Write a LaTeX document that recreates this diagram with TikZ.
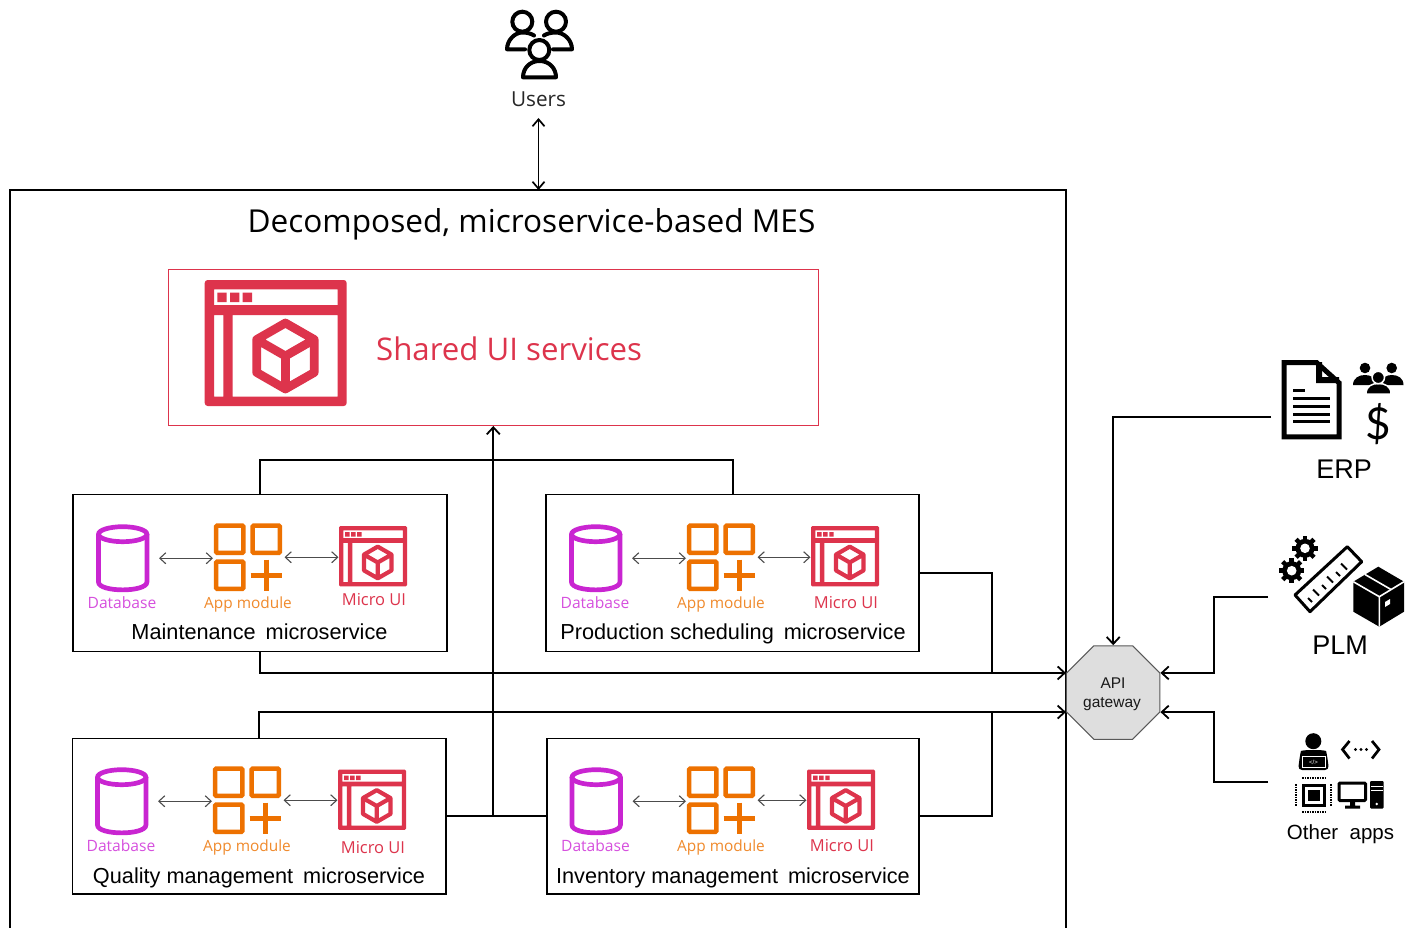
\documentclass[tikz,border=0pt]{standalone}
\usepackage{fontspec}
\setmainfont{Liberation Sans}
\newfontfamily\osans{Open Sans}
\newfontfamily\lato{Lato}
\usetikzlibrary{arrows.meta,shapes.geometric}
\definecolor{dbc}{HTML}{C925D1}
\definecolor{appc}{HTML}{ED7100}
\definecolor{uic}{HTML}{DD344C}
\definecolor{dbt}{HTML}{D650DE}
\definecolor{appt}{HTML}{F08A2C}
\newcommand{\fsz}[1]{\fontsize{#1}{#1}\selectfont}
\newcommand{\wgap}{\hspace{10pt}}
\tikzset{
  conn/.style={draw=black,line width=2pt},
  connar/.style={conn,-{Straight Barb[length=7pt,width=13pt,line width=1.8pt]}},
  thinar/.style={draw=black!70,line width=1.1pt,{Straight Barb[length=6pt,width=11pt]}-{Straight Barb[length=6pt,width=11pt]}},
  svcbox/.style={draw=black,line width=1.2pt,fill=white,inner sep=0pt},
  iconbox/.style={inner sep=0pt,outer sep=0pt},
  svctitle/.style={inner sep=0pt,anchor=base,font=\fsz{21.7}},
  dblab/.style={inner sep=0pt,anchor=base,text=dbt,font=\osans\fsz{15.6}},
  applab/.style={inner sep=0pt,anchor=base,text=appt,font=\osans\fsz{15.4}},
  uilab/.style={inner sep=0pt,anchor=base,text=uic,font=\osans\fsz{16.5}},
  sidelab/.style={inner sep=0pt,font=\fsz{27}},
}
% Micro UI icon: top-left x,y, scale
\newcommand{\uiicon}[3]{%
 \begin{scope}[shift={(#1,#2)},scale=#3]
  \fill[uic,even odd rule,rounded corners=#3*3pt] (0,0) rectangle (142,126)
    [sharp corners] (9.3,9.3) rectangle (133,25)
    (9.3,35) rectangle (18.7,116.7)
    (28,35) rectangle (133,116.7);
  \fill[uic] (12.7,12.7) rectangle (22,22) (25.3,12.7) rectangle (34.7,22) (38,12.7) rectangle (47.3,22);
  \draw[uic,line width=#3*8.7pt,line join=round]
    (80.7,43) -- (109.5,59.5) -- (109.5,92.5) -- (80.7,109) -- (52,92.5) -- (52,59.5) -- cycle
    (52,59.5) -- (80.7,76) -- (109.5,59.5) (80.7,76) -- (80.7,109);
 \end{scope}}
% Database icon: left, top
\newcommand{\dbicon}[2]{%
 \begin{scope}[shift={(#1,#2)}]
  \draw[dbc,line width=4.7pt] (26.7,9.7) ellipse [x radius=24.2,y radius=7.5];
  \draw[dbc,line width=4.7pt] (2.5,9.7) -- (2.5,57.5) .. controls (2.5,68) and (50.9,68) .. (50.9,57.5) -- (50.9,9.7);
 \end{scope}}
% App module icon: left, top
\newcommand{\appicon}[2]{%
 \begin{scope}[shift={(#1,#2)}]
  \draw[appc,line width=4.5pt,rounded corners=1pt]
    (2.2,2.2) rectangle (29.3,29.3) (38.7,2.2) rectangle (65.8,29.3) (2.2,38.2) rectangle (29.3,65.3);
  \draw[appc,line width=4.7pt] (52.2,36) -- (52.2,67.5) (36.5,52) -- (68,52);
 \end{scope}}
% One row of icons, labels and inner arrows
% prefix, db left, app left, ui left, row top, ui top, ui label baseline
\newcommand{\svcrow}[7]{%
  \node[iconbox,minimum width=54pt,minimum height=67.5pt,anchor=north west] (#1db) at (#2,#5) {};
  \node[iconbox,minimum width=68pt,minimum height=67.5pt,anchor=north west] (#1app) at (#3,#5-1) {};
  \node[iconbox,minimum width=68pt,minimum height=60.5pt,anchor=north west] (#1ui) at (#4,#6) {};
  \dbicon{#2}{#5}\appicon{#3}{#5-1}\uiicon{#4}{#6}{0.48}
  \node[dblab] (#1dbl) at (#2+26,#5+84.3) {Database};
  \node[applab] (#1appl) at (#3+34,#5+84.3) {App module};
  \node[uilab] (#1uil) at (#4+35,#7) {Micro UI};
  \draw[thinar,shorten <=9pt,shorten >=1pt] (#1db.east) -- (#1db.east -| #1app.west);
  \draw[thinar,shorten <=2.5pt,shorten >=0.5pt] (#1app.east) -- (#1app.east -| #1ui.west);
}
\newcommand{\gearicon}[2]{%
 \begin{scope}[shift={(#1,#2)}]
  \fill[black] (0,0) circle [radius=9.5];
  \foreach \a in {0,45,...,315}{\draw[black,line width=4.5pt] (\a:8) -- (\a:12.7);}
  \fill[white] (0,0) circle [radius=4.8];
 \end{scope}}
\begin{document}
\begin{tikzpicture}[x=1pt,y=-1pt]
\useasboundingbox (0,0) rectangle (1413,928);
\fill[white] (0,0) rectangle (1413,928);

% outer frame
\draw[black,line width=2pt] (10,928) -- (10,190) -- (1066,190) -- (1066,928);
\coordinate (frametop) at (538.5,190);
\node[inner sep=0pt,font=\osans\fsz{31.6}] (title) at (531.5,224.5) {Decomposed, microservice-based MES};

% users
\begin{scope}[line width=4pt,line join=round,line cap=round]
 \draw (522.3,21.7) circle [radius=10];
 \draw (556,21.7) circle [radius=10];
 \draw (539.3,50) circle [radius=10];
 \draw (525,49.3) -- (507,49.3) .. controls (507,40) and (515,32.5) .. (522.3,32.5) .. controls (527,32.5) and (531,33.5) .. (534,35.5);
 \draw (553,49.3) -- (572,49.3) .. controls (572,40) and (564,32.5) .. (556,32.5) .. controls (551,32.5) and (547,33.5) .. (544,35.5);
 \draw (523,77.3) -- (556,77.3) .. controls (556,68) and (549,61) .. (539.5,61) .. controls (530,61) and (523,68) .. (523,77.3);
\end{scope}
\node[inner sep=0pt,font=\osans\fsz{20.7},text=black!85] (users) at (538.5,99) {Users};
\coordinate (usersarrow) at (538.5,118);
\draw[conn,line width=1.8pt,{Straight Barb[length=7pt,width=12pt,line width=1.7pt]}-{Straight Barb[length=7pt,width=12pt,line width=1.7pt]}] (usersarrow) -- (frametop);

% shared UI
\node[draw=uic,line width=1pt,inner sep=0pt,minimum width=650.5pt,minimum height=156pt] (shared) at (493.3,347.5) {};
\uiicon{204.7}{280}{1}
\node[inner sep=0pt,text=uic,font=\osans\fsz{31.2},anchor=west] (sharedt) at (376,349) {Shared UI services};

% service boxes
\node[svcbox,minimum width=374pt,minimum height=157pt] (maint) at (260,573) {};
\node[svcbox,minimum width=373pt,minimum height=157pt] (prod) at (732.5,573) {};
\node[svcbox,minimum width=373.5pt,minimum height=155.5pt] (qual) at (259.25,816.25) {};
\node[svcbox,minimum width=372pt,minimum height=155.5pt] (inv) at (733,816.25) {};

\svcrow{m}{96}{214}{339}{524.5}{526}{605.5}
\svcrow{p}{569}{687}{811}{524.5}{526}{608.5}
\svcrow{q}{95}{213}{338}{767.5}{769.5}{853.5}
\svcrow{i}{569.5}{687}{807}{767.5}{769.5}{851.5}

\node[svctitle] (mt) at (259.5,639.5) {Maintenance\wgap microservice};
\node[svctitle] (pt) at (733,639.5) {Production scheduling\wgap microservice};
\node[svctitle] (qt) at (259,883.5) {Quality management\wgap microservice};
\node[svctitle] (it) at (733,883.5) {Inventory management\wgap microservice};

% API gateway
\node[regular polygon,regular polygon sides=8,draw=black!65,line width=1pt,fill=black!13,inner sep=0pt,minimum size=101.2pt] (api) at (1113.2,692.5) {};
\node[inner sep=0pt,anchor=base,font=\fsz{15.5},text=black!90] (apit) at (1113,688.5) {API};
\node[inner sep=0pt,anchor=base,font=\fsz{15.5},text=black!90] (apib) at (1112,707.5) {gateway};

% connectors
\coordinate (bus) at (493.5,460);
\coordinate (busx) at (992,692);
\coordinate (jx) at (1214,692);
\coordinate (erpc) at (1271,417);
\coordinate (plmc) at (1268,597);
\coordinate (othc) at (1268,782);
\draw[conn] (maint.north) |- (bus) -| (prod.north);
\draw[conn] (qual.east) -- (inv.west);
\draw[connar] (qual.east -| shared.south) -- (shared.south);
\draw[connar] (maint.south) |- (api.corner 3);
\draw[connar] (qual.north) |- (api.corner 4);
\draw[conn] (prod.east) -| (busx |- api.corner 3);
\draw[conn] (inv.east) -| (busx |- api.corner 4);
\draw[connar] (erpc) -| (api.north);
\draw[connar] (plmc) -| (jx |- api.corner 8) -- (api.corner 8);
\draw[connar] (othc) -| (jx |- api.corner 7) -- (api.corner 7);

% ERP icons
\draw[line width=5pt,line join=miter] (1284.2,362.5) -- (1316.5,362.5) -- (1339.2,383) -- (1339.2,436.8) -- (1284.2,436.8) -- cycle;
\fill (1316,362) -- (1322,362) -- (1322,377) -- (1339,377) -- (1339,383) -- (1316,383) -- cycle;
\draw[line width=2.7pt] (1293,390.7) -- (1305,390.7) (1293,398.3) -- (1330,398.3) (1293,406.3) -- (1330,406.3) (1293,414.3) -- (1330,414.3) (1293,421.7) -- (1330,421.7);
\fill (1365,368) circle [radius=5.3] (1391.7,368) circle [radius=5.3];
\fill (1353,385) .. controls (1353,378) and (1359,375) .. (1365,375) .. controls (1371,375) and (1376,378) .. (1377,385) -- cycle;
\fill (1380,385) .. controls (1381,378) and (1386,375) .. (1391.7,375) .. controls (1398,375) and (1403.5,378) .. (1403.5,385) -- cycle;
\draw[white,line width=1.5pt,fill=black] (1366,394) .. controls (1366,386) and (1372,383.5) .. (1378.3,383.5) .. controls (1385,383.5) and (1391,386) .. (1391,394) -- cycle;
\draw[white,line width=1.5pt,fill=black] (1378.3,377.5) circle [radius=6.2];
\node[inner sep=0pt,font=\lato\fsz{44}] (dollar) at (1378,424) {\$};
\node[sidelab] (erp) at (1344,469) {ERP};

% PLM icons
\gearicon{1305}{548.3}
\gearicon{1291.7}{570.7}
\draw[line width=3pt,line join=round] (1295,595) -- (1347.3,546.7) -- (1361.7,561.7) -- (1310,611.7) -- cycle;
\draw[line width=1.8pt] (1312,602) -- (1308,598) (1319,595.5) -- (1313,589.5) (1326,589) -- (1322,585) (1333,582.5) -- (1327,576.5) (1340,576) -- (1336,572) (1347,569.5) -- (1341,563.5);
\fill (1378.3,566.7) -- (1404,581.7) -- (1404,611.7) -- (1379.3,626.7) -- (1353.3,611.7) -- (1353.3,581.7) -- cycle;
\draw[white,line width=1.6pt] (1353.3,581.7) -- (1379.3,596.7) -- (1404,581.7) (1379.3,596.7) -- (1379.3,626.7);
\draw[white,line width=1.6pt] (1365,574.5) -- (1391,589.5);
\fill[white] (1385,602) -- (1390,599) -- (1390,604) -- (1385,607) -- cycle;
\node[sidelab] (plm) at (1340,645) {PLM};

% other apps icons
\fill (1313.3,741.2) circle [radius=8];
\fill[rounded corners=4pt] (1298,770) -- (1300,755) .. controls (1301,750.5) and (1308,750) .. (1313.3,750) .. controls (1319,750) and (1326,750.5) .. (1327,755) -- (1329,770) -- cycle;
\draw[white,line width=0.8pt,fill=black] (1302,756) rectangle (1325,767.5);
\node[inner sep=0pt,text=white,font=\fsz{6}] (devcode) at (1313.5,762) {</>};
\draw[line width=2.7pt] (1349.5,741) -- (1342.5,749.5) -- (1349.5,758.5) (1372,741) -- (1379,749.5) -- (1372,758.5);
\fill (1355.5,749.5) circle [radius=1.7] (1361,749.5) circle [radius=1.7] (1366.5,749.5) circle [radius=1.7];
\draw[line width=3pt] (1303,785) rectangle (1324,805);
\fill (1307.5,789.5) rectangle (1319.5,800.5);
\draw[line width=2.4pt,dash pattern=on 1.5pt off 1pt] (1302,778) -- (1325,778) (1302,812) -- (1325,812) (1296,784) -- (1296,806) (1331,784) -- (1331,806);
\draw[line width=3pt,rounded corners=1pt] (1339,783) rectangle (1365.5,800.5);
\fill (1350,801) rectangle (1355,806) (1345,805.5) rectangle (1360,808.5);
\fill[rounded corners=1pt] (1370,781) rectangle (1383.5,808.5);
\draw[white,line width=1pt] (1371,786.5) -- (1382.5,786.5) (1371,790.5) -- (1382.5,790.5);
\fill[white] (1376.7,804) circle [radius=1.4];
\node[inner sep=0pt,font=\fsz{20.5}] (other) at (1340.5,834) {Other~~apps};
\end{tikzpicture}
\end{document}
